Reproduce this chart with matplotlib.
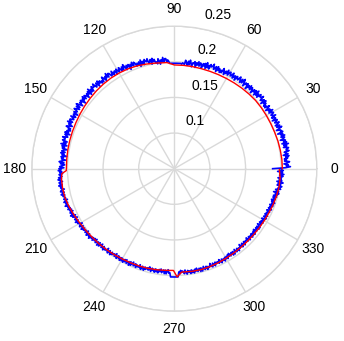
#!/usr/bin/env python3
"""Polar plot: measured radius (blue, 0.5 deg steps) against the fitted profile (red)."""

import matplotlib

matplotlib.use("Agg")

import matplotlib.pyplot as plt
import numpy as np

# ── data ────────────────────────────────────────────────────────────────────
# measured radius, sampled every 0.5 deg from 0 to 359.5 (one row = 5 deg)
MEASURED_STEP_DEG = 0.5
MEASURED_R = [
    0.188, 0.206, 0.213, 0.207, 0.210, 0.204, 0.209, 0.212, 0.205, 0.208,
    0.205, 0.210, 0.207, 0.212, 0.204, 0.211, 0.208, 0.206, 0.213, 0.209,
    0.210, 0.213, 0.206, 0.211, 0.207, 0.214, 0.205, 0.212, 0.208, 0.211,
    0.204, 0.209, 0.211, 0.206, 0.212, 0.207, 0.210, 0.203, 0.211, 0.208,
    0.209, 0.203, 0.208, 0.212, 0.205, 0.210, 0.204, 0.208, 0.211, 0.205,
    0.207, 0.210, 0.203, 0.209, 0.208, 0.204, 0.211, 0.206, 0.205, 0.210,
    0.209, 0.204, 0.211, 0.205, 0.208, 0.202, 0.207, 0.210, 0.203, 0.206,
    0.203, 0.208, 0.205, 0.210, 0.202, 0.209, 0.206, 0.204, 0.211, 0.207,
    0.207, 0.210, 0.203, 0.208, 0.204, 0.211, 0.202, 0.209, 0.205, 0.208,
    0.201, 0.206, 0.208, 0.203, 0.209, 0.204, 0.207, 0.200, 0.208, 0.205,
    0.207, 0.201, 0.206, 0.210, 0.203, 0.208, 0.202, 0.206, 0.209, 0.203,
    0.204, 0.207, 0.200, 0.206, 0.205, 0.201, 0.208, 0.203, 0.202, 0.207,
    0.206, 0.201, 0.208, 0.202, 0.205, 0.199, 0.204, 0.207, 0.200, 0.203,
    0.199, 0.204, 0.201, 0.206, 0.198, 0.205, 0.202, 0.200, 0.207, 0.203,
    0.202, 0.205, 0.198, 0.203, 0.199, 0.206, 0.197, 0.204, 0.200, 0.203,
    0.196, 0.201, 0.203, 0.198, 0.204, 0.199, 0.202, 0.195, 0.203, 0.200,
    0.201, 0.195, 0.200, 0.204, 0.197, 0.202, 0.196, 0.200, 0.203, 0.197,
    0.198, 0.199, 0.197, 0.198, 0.198, 0.198, 0.198, 0.198, 0.198, 0.198,
    0.198, 0.198, 0.198, 0.198, 0.198, 0.198, 0.201, 0.203, 0.200, 0.205,
    0.205, 0.200, 0.207, 0.201, 0.204, 0.198, 0.203, 0.206, 0.199, 0.202,
    0.201, 0.206, 0.203, 0.208, 0.200, 0.207, 0.204, 0.202, 0.209, 0.205,
    0.206, 0.209, 0.202, 0.207, 0.203, 0.210, 0.201, 0.208, 0.204, 0.207,
    0.203, 0.208, 0.210, 0.205, 0.211, 0.206, 0.209, 0.202, 0.210, 0.207,
    0.210, 0.204, 0.209, 0.213, 0.206, 0.211, 0.205, 0.209, 0.212, 0.206,
    0.209, 0.212, 0.205, 0.211, 0.210, 0.206, 0.213, 0.208, 0.207, 0.212,
    0.213, 0.208, 0.215, 0.209, 0.212, 0.206, 0.211, 0.214, 0.207, 0.210,
    0.207, 0.212, 0.209, 0.214, 0.206, 0.213, 0.210, 0.208, 0.215, 0.211,
    0.211, 0.214, 0.207, 0.212, 0.208, 0.215, 0.206, 0.213, 0.209, 0.212,
    0.206, 0.211, 0.213, 0.208, 0.214, 0.209, 0.212, 0.205, 0.213, 0.210,
    0.212, 0.206, 0.211, 0.215, 0.208, 0.213, 0.207, 0.211, 0.214, 0.208,
    0.209, 0.212, 0.205, 0.211, 0.210, 0.206, 0.213, 0.208, 0.207, 0.212,
    0.212, 0.207, 0.214, 0.208, 0.211, 0.205, 0.210, 0.213, 0.206, 0.209,
    0.205, 0.210, 0.207, 0.212, 0.204, 0.211, 0.208, 0.206, 0.213, 0.209,
    0.209, 0.212, 0.205, 0.210, 0.206, 0.213, 0.204, 0.211, 0.207, 0.210,
    0.203, 0.208, 0.210, 0.205, 0.211, 0.206, 0.209, 0.202, 0.210, 0.207,
    0.209, 0.203, 0.208, 0.212, 0.205, 0.210, 0.204, 0.208, 0.211, 0.205,
    0.212, 0.209, 0.213, 0.208, 0.211, 0.207, 0.212, 0.210, 0.208, 0.213,
    0.209, 0.214, 0.211, 0.208, 0.213, 0.212, 0.209, 0.214, 0.210, 0.212,
    0.211, 0.207, 0.212, 0.213, 0.208, 0.210, 0.213, 0.208, 0.211, 0.209,
    0.208, 0.211, 0.206, 0.210, 0.212, 0.207, 0.210, 0.208, 0.212, 0.207,
    0.209, 0.206, 0.210, 0.205, 0.208, 0.204, 0.209, 0.207, 0.205, 0.210,
    0.203, 0.208, 0.205, 0.202, 0.207, 0.206, 0.203, 0.208, 0.204, 0.206,
    0.204, 0.200, 0.205, 0.206, 0.201, 0.203, 0.206, 0.201, 0.204, 0.202,
    0.201, 0.204, 0.199, 0.203, 0.205, 0.200, 0.203, 0.201, 0.205, 0.200,
    0.202, 0.199, 0.203, 0.198, 0.201, 0.197, 0.202, 0.200, 0.198, 0.203,
    0.197, 0.202, 0.199, 0.196, 0.201, 0.200, 0.197, 0.202, 0.198, 0.200,
    0.199, 0.195, 0.200, 0.201, 0.196, 0.198, 0.201, 0.196, 0.199, 0.197,
    0.196, 0.199, 0.194, 0.198, 0.200, 0.195, 0.198, 0.196, 0.200, 0.195,
    0.199, 0.196, 0.200, 0.195, 0.198, 0.194, 0.199, 0.197, 0.195, 0.200,
    0.194, 0.199, 0.196, 0.193, 0.198, 0.197, 0.194, 0.199, 0.195, 0.197,
    0.197, 0.193, 0.198, 0.199, 0.194, 0.196, 0.199, 0.194, 0.197, 0.195,
    0.194, 0.197, 0.192, 0.196, 0.198, 0.193, 0.196, 0.194, 0.198, 0.193,
    0.197, 0.194, 0.198, 0.193, 0.196, 0.192, 0.197, 0.195, 0.193, 0.198,
    0.193, 0.198, 0.195, 0.192, 0.197, 0.196, 0.202, 0.202, 0.202, 0.202,
    0.202, 0.202, 0.202, 0.202, 0.202, 0.195, 0.198, 0.193, 0.196, 0.194,
    0.195, 0.198, 0.193, 0.197, 0.199, 0.194, 0.197, 0.195, 0.199, 0.194,
    0.198, 0.195, 0.199, 0.194, 0.197, 0.193, 0.198, 0.196, 0.194, 0.199,
    0.194, 0.199, 0.196, 0.193, 0.198, 0.197, 0.194, 0.199, 0.195, 0.197,
    0.196, 0.192, 0.197, 0.198, 0.193, 0.195, 0.198, 0.193, 0.196, 0.194,
    0.194, 0.197, 0.192, 0.196, 0.198, 0.193, 0.196, 0.194, 0.198, 0.193,
    0.196, 0.193, 0.197, 0.192, 0.195, 0.191, 0.196, 0.194, 0.192, 0.197,
    0.192, 0.197, 0.194, 0.191, 0.196, 0.195, 0.192, 0.197, 0.193, 0.195,
    0.194, 0.190, 0.195, 0.196, 0.191, 0.193, 0.196, 0.191, 0.194, 0.192,
    0.192, 0.195, 0.190, 0.194, 0.196, 0.191, 0.194, 0.192, 0.196, 0.191,
    0.195, 0.192, 0.196, 0.191, 0.194, 0.190, 0.195, 0.193, 0.191, 0.196,
    0.191, 0.196, 0.193, 0.190, 0.195, 0.194, 0.191, 0.196, 0.192, 0.194,
    0.195, 0.191, 0.196, 0.197, 0.192, 0.194, 0.197, 0.192, 0.195, 0.193,
    0.194, 0.197, 0.192, 0.196, 0.198, 0.193, 0.196, 0.194, 0.198, 0.193,
    0.198, 0.195, 0.199, 0.194, 0.197, 0.193, 0.198, 0.196, 0.194, 0.199,
    0.194, 0.199, 0.196, 0.201, 0.193, 0.200, 0.197, 0.195, 0.202, 0.198,
    0.200, 0.203, 0.196, 0.201, 0.197, 0.204, 0.195, 0.202, 0.198, 0.201,
    0.196, 0.201, 0.203, 0.198, 0.204, 0.199, 0.202, 0.195, 0.203, 0.200,
]

# fitted profile, with the small steps where the quadrant scans join
FIT_DEG = [
    0, 5, 10, 15, 20, 25, 30, 35, 40, 45, 50, 55, 60, 65, 70, 75, 80, 85,
    90, 94, 100, 105, 110, 115, 120, 125, 130, 135, 140, 145, 150, 155,
    160, 165, 170, 175, 181, 182.5, 185, 190, 195, 200, 205, 210, 215, 220,
    225, 230, 235, 240, 245, 250, 255, 260, 265, 269.5, 271.5, 274, 280,
    285, 290, 295, 300, 305, 310, 315, 320, 325, 330, 335, 340, 345, 350,
    355, 359.5,
]
FIT_R = [
    0.2016, 0.2015, 0.2010, 0.2005, 0.1998, 0.1994, 0.1992, 0.1991, 0.1989,
    0.1982, 0.1975, 0.1968, 0.1962, 0.1958, 0.1955, 0.1954, 0.1955, 0.1956,
    0.1956, 0.1993, 0.2005, 0.2020, 0.2035, 0.2045, 0.2050, 0.2052, 0.2050,
    0.2046, 0.2040, 0.2035, 0.2030, 0.2025, 0.2022, 0.2020, 0.2018, 0.2016,
    0.2016, 0.2080, 0.2090, 0.2092, 0.2088, 0.2070, 0.2050, 0.2030, 0.2015,
    0.2002, 0.1992, 0.1982, 0.1972, 0.1963, 0.1957, 0.1952, 0.1947, 0.1940,
    0.1932, 0.1928, 0.2020, 0.1955, 0.1962, 0.1965, 0.1962, 0.1957, 0.1952,
    0.1948, 0.1946, 0.1946, 0.1947, 0.1952, 0.1958, 0.1965, 0.1975, 0.1985,
    0.1992, 0.1990, 0.1975,
]

R_TICKS = [0.1, 0.15, 0.2, 0.25]
R_TICK_LABELS = ["0.1", "0.15", "0.2", "0.25"]
THETA_TICKS = list(range(0, 360, 30))
THETA_TICK_LABELS = [str(t) for t in THETA_TICKS]

GRID_GREY = "#d9d9d9"
FONT_SIZE = 10


def main() -> None:
    plt.rcParams["font.family"] = ["Liberation Sans", "DejaVu Sans"]

    fig = plt.figure(figsize=(3.44, 3.41), dpi=100)
    ax = fig.add_axes([0.0925, 0.0874, 0.8285, 0.8358], projection="polar")

    measured_deg = np.arange(len(MEASURED_R)) * MEASURED_STEP_DEG
    ax.plot(np.deg2rad(measured_deg), MEASURED_R, color="blue", linewidth=1.2)
    ax.plot(np.deg2rad(FIT_DEG), FIT_R, color="red", linewidth=1.0)

    ax.set_ylim(0.05, 0.25)
    ax.set_yticks(R_TICKS)
    ax.set_yticklabels([])
    ax.set_thetagrids(THETA_TICKS, labels=THETA_TICK_LABELS)

    ax.grid(True, color=GRID_GREY, linewidth=1.0)
    ax.spines["polar"].set_color(GRID_GREY)
    ax.spines["polar"].set_linewidth(1.0)
    ax.tick_params(axis="x", pad=5.5, labelsize=FONT_SIZE, length=0)
    ax.tick_params(axis="y", length=0)

    # radius labels sit just above each ring along the 80 deg spoke
    for val, lab in zip(R_TICKS, R_TICK_LABELS):
        ax.annotate(lab, xy=(np.deg2rad(80), val), xytext=(5, 6),
                    textcoords="offset pixels", ha="left", va="bottom",
                    fontsize=FONT_SIZE, annotation_clip=False)

    fig.savefig("out.png", dpi=100)
    plt.close(fig)


if __name__ == "__main__":
    main()
